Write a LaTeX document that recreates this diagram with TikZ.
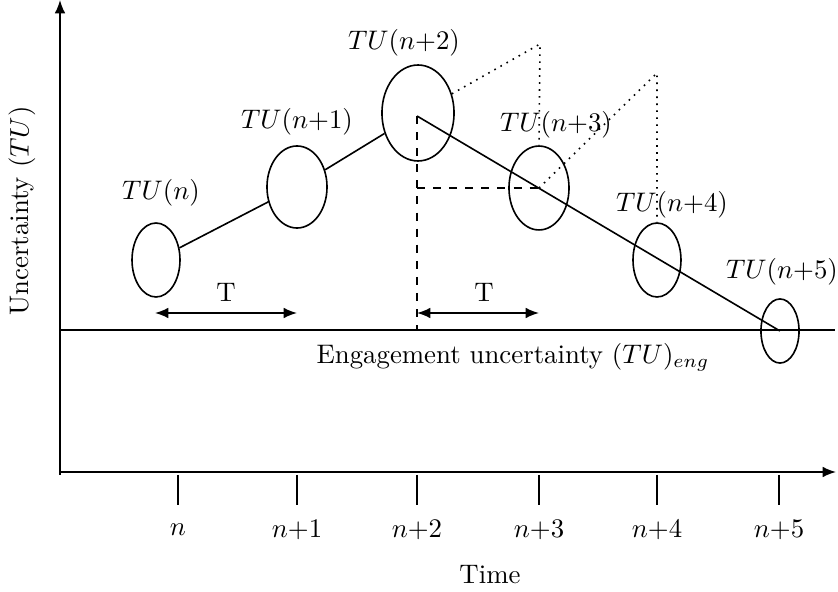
\documentclass[tikz,border=0pt]{standalone}
\usetikzlibrary{shapes.geometric,arrows.meta}
\begin{document}
\begin{tikzpicture}[x=0.373pt,y=-0.373pt,line width=0.6pt,
  ell/.style={ellipse,draw,inner sep=0pt},
  lbl/.style={inner sep=0pt},
  tip/.style={-{Latex[length=5pt,width=4pt]}},
  dtip/.style={{Latex[length=5pt,width=4pt]}-{Latex[length=5pt,width=4pt]}}]
\useasboundingbox (0,0) rectangle (838,592);
% axes
\coordinate (o) at (60,472);
\coordinate (ytop) at (60,0);
\coordinate (xend) at (836,472);
\draw[tip] (60,475) coordinate (ybot) -- (ytop);
\draw[tip] (o) -- (xend);
\node[lbl,rotate=90] (ylab) at (22,211) {Uncertainty $(TU)$};
\node[lbl] (xlab) at (490,575) {Time};
% ticks
\foreach \x/\t [count=\i] in {178/n,297/n{+}1,417/n{+}2,539/n{+}3,657/n{+}4,779/n{+}5}{
  \coordinate (ta\i) at (\x,475);
  \coordinate (tb\i) at (\x,505);
  \draw (ta\i) -- (tb\i);
  \node[lbl] (tl\i) at (\x,530) {$\t$};
}
% engagement line
\coordinate (el) at (60,330);
\coordinate (er) at (835,330);
\draw (el) -- (er);
\node[lbl] (englab) at (513,357) {Engagement uncertainty $(TU)_{eng}$};
% ellipses
\node[ell,minimum width=17.9pt,minimum height=27.6pt] (e0) at (156,260) {};
\node[ell,minimum width=22.4pt,minimum height=30.6pt] (e1) at (297,187) {};
\node[ell,minimum width=26.9pt,minimum height=35.8pt] (e2) at (418,113) {};
\node[ell,minimum width=22.4pt,minimum height=31.3pt] (e3) at (539,188) {};
\node[ell,minimum width=17.9pt,minimum height=27.6pt] (e4) at (657,260) {};
\node[ell,minimum width=14.2pt,minimum height=23.9pt] (e5) at (780,331) {};
% labels
\node[lbl] (l0) at (161,193) {$TU(n)$};
\node[lbl] (l1) at (297,122) {$TU(n{+}1)$};
\node[lbl] (l2) at (404,43) {$TU(n{+}2)$};
\node[lbl] (l3) at (556,125) {$TU(n{+}3)$};
\node[lbl] (l4) at (672,205) {$TU(n{+}4)$};
\node[lbl] (l5) at (782,272) {$TU(n{+}5)$};
% trajectory
\coordinate (c2) at (417,116);
\coordinate (c5) at (780,331);
\draw (e0) -- (e1) -- (e2);
\draw (c2) -- (c5);
% dashed
\coordinate (d0) at (417,330);
\coordinate (d1) at (417,188);
\coordinate (c3) at (539,188);
\draw[dashed] (c2) -- (d0);
\draw[dashed] (d1) -- (c3);
% dotted
\coordinate (p1) at (540,44);
\coordinate (p2) at (657,73);
\draw[dotted] (e2) -- (p1) -- (e3.north);
\draw[dotted] (c3) -- (p2) -- (e4.north);
% T arrows
\coordinate (a1) at (155,313);
\coordinate (a2) at (297,313);
\coordinate (b1) at (417,313);
\coordinate (b2) at (539,313);
\draw[dtip] (a1) -- (a2);
\draw[dtip] (b1) -- (b2);
\node[lbl] (t1) at (226,292) {T};
\node[lbl] (t2) at (484,292) {T};
\end{tikzpicture}
\end{document}
